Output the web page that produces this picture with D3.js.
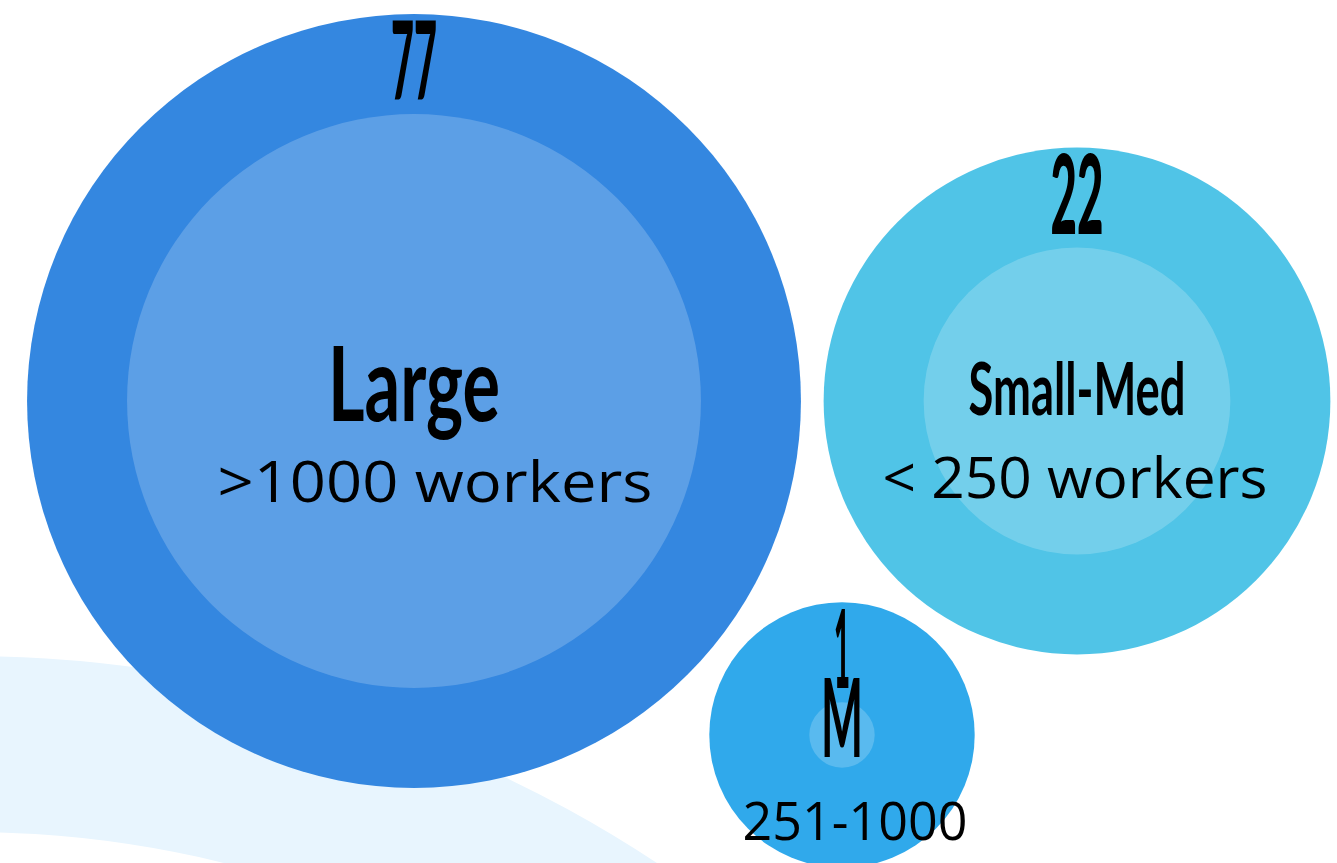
<!DOCTYPE html>
<html>
<head>
<meta charset="utf-8">
<script src="https://cdn.jsdelivr.net/npm/d3@7"></script>
<style>
  html, body { margin: 0; padding: 0; background: #fff; }
  svg { display: block; }
</style>
</head>
<body>
<div id="chart"></div>
<script>
// data
const categories = ["Large", "Small-Med", "M"];
const subLabels = [">1000 workers", "< 250 workers", "251-1000"];
const counts = [77, 22, 1];

// layout (positions / styles only)
const width = 1337, height = 863;
const centers = [[414, 401], [1077, 401], [842, 735]];
const ringWidth = 100;
const colors = ["#3487e0", "#50c4e7", "#30a9eb"];
const labelStyle = [
  { size: 104, len: 172, dy: 20 },
  { size: 73, len: 217, dy: 14 },
  { size: 110, len: 42, dy: 22 }
];
const numberStyle = [
  { size: 108, len: 46 },
  { size: 110, len: 53 },
  { size: 108, len: 16 }
];
const subStyle = [
  { size: 56, len: 435, dx: 21, dy: 101 },
  { size: 56, len: 385, dx: -2, dy: 97 },
  { size: 53, len: 225, dx: 13, dy: 105 }
];

const r = d3.scaleSqrt().domain([0, 1]).range([0, 32.7]);

const svg = d3.select("#chart").append("svg")
  .attr("width", width)
  .attr("height", height)
  .attr("viewBox", [0, 0, width, height]);

svg.append("rect").attr("width", width).attr("height", height).attr("fill", "#fff");

// decorative pale band in the lower left corner
svg.append("path")
  .attr("transform", "translate(-32,1906)")
  .attr("d", d3.arc()({ innerRadius: 1074, outerRadius: 1250, startAngle: -0.2, endAngle: 1.2 }))
  .attr("fill", "#e8f5fe");

const nodes = categories.map((c, i) => ({
  name: c,
  sub: subLabels[i],
  count: counts[i],
  x: centers[i][0],
  y: centers[i][1],
  inner: r(counts[i]),
  outer: r(counts[i]) + ringWidth,
  i
}));

const g = svg.selectAll("g.node")
  .data(nodes)
  .join("g")
  .attr("class", "node")
  .attr("transform", d => `translate(${d.x},${d.y})`);

g.append("circle")
  .attr("r", d => d.outer)
  .attr("fill", d => colors[d.i]);

g.append("circle")
  .attr("r", d => d.inner)
  .attr("fill", "#fff")
  .attr("fill-opacity", 0.2);

const condensed = "Lato, 'Open Sans', sans-serif";

g.append("text")
  .attr("text-anchor", "middle")
  .attr("y", d => -d.outer + 86)
  .attr("font-family", condensed)
  .attr("font-weight", 900)
  .attr("font-size", d => numberStyle[d.i].size)
  .attr("textLength", d => numberStyle[d.i].len)
  .attr("lengthAdjust", "spacingAndGlyphs")
  .text(d => d.count);

g.append("text")
  .attr("text-anchor", "middle")
  .attr("y", d => labelStyle[d.i].dy)
  .attr("font-family", condensed)
  .attr("font-weight", 700)
  .attr("font-size", d => labelStyle[d.i].size)
  .attr("textLength", d => labelStyle[d.i].len)
  .attr("lengthAdjust", "spacingAndGlyphs")
  .text(d => d.name);

g.append("text")
  .attr("text-anchor", "middle")
  .attr("x", d => subStyle[d.i].dx)
  .attr("y", d => subStyle[d.i].dy)
  .attr("font-family", "'Open Sans', sans-serif")
  .attr("font-size", d => subStyle[d.i].size)
  .attr("textLength", d => subStyle[d.i].len)
  .attr("lengthAdjust", "spacingAndGlyphs")
  .attr("fill", "#000")
  .text(d => d.sub);
</script>
</body>
</html>
